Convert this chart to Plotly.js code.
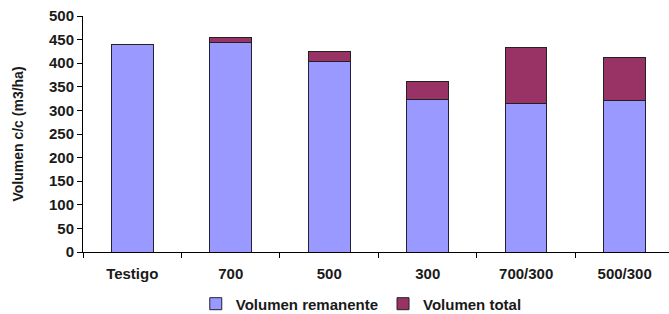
<!DOCTYPE html>
<html>
<head>
<meta charset="utf-8">
<script src="https://cdn.plot.ly/plotly-3.0.1.min.js"></script>
<style>html,body{margin:0;padding:0;background:#fff;}#chart{width:669px;height:314px;}</style>
</head>
<body>
<div id="chart"></div>
<script>
const categories = ["Testigo", "700", "500", "300", "700/300", "500/300"];
const volumenRemanente = [439, 443, 403, 324, 314, 322];
const volumenTotal = [439, 455, 425, 362, 433, 412];
const extra = volumenTotal.map((t, i) => t - volumenRemanente[i]);

const FAM = "Liberation Sans, Arial, sans-serif";
const tickFont = {family: FAM, size: 15, color: "#1a1a1a", weight: "bold"};

const traces = [
  {
    type: "bar", name: "Volumen remanente", x: categories, y: volumenRemanente,
    marker: {color: "#9999FF", line: {color: "#222233", width: 1}}
  },
  {
    type: "bar", name: "Volumen total", x: categories, y: extra,
    marker: {color: "#993366", line: {color: "#222222", width: 1}}
  }
];

const layout = {
  width: 669, height: 314,
  margin: {l: 83, r: 0, t: 16, b: 62, autoexpand: false},
  barmode: "stack",
  bargap: 0.578,
  paper_bgcolor: "#fff", plot_bgcolor: "#fff",
  font: tickFont,
  showlegend: true,
  legend: {
    orientation: "h", traceorder: "normal",
    xref: "container", yref: "container",
    x: 0.54, xanchor: "center", y: 0.032, yanchor: "middle",
    font: {family: FAM, size: 15, color: "#1a1a1a", weight: "bold"},
    itemwidth: 30
  },
  xaxis: {
    type: "category", range: [-0.5, 5.45],
    showline: true, linecolor: "#000", linewidth: 1,
    ticks: "outside", tickson: "boundaries", ticklen: 5, tickcolor: "#000",
    showgrid: false, zeroline: false, automargin: false,
    ticklabelstandoff: 8,
    tickfont: tickFont
  },
  yaxis: {
    range: [0, 500], dtick: 50, tick0: 0,
    showline: true, linecolor: "#000", linewidth: 1,
    ticks: "outside", ticklen: 5, tickcolor: "#000",
    showgrid: false, zeroline: false, automargin: false,
    tickfont: {family: FAM, size: 15, color: "#1a1a1a", weight: "bold"},
    title: {text: "Volumen c/c (m3/ha)", font: {family: FAM, size: 14, color: "#1a1a1a", weight: "bold"}, standoff: 22}
  }
};

Plotly.newPlot("chart", traces, layout, {displayModeBar: false, staticPlot: true});
</script>
</body>
</html>
